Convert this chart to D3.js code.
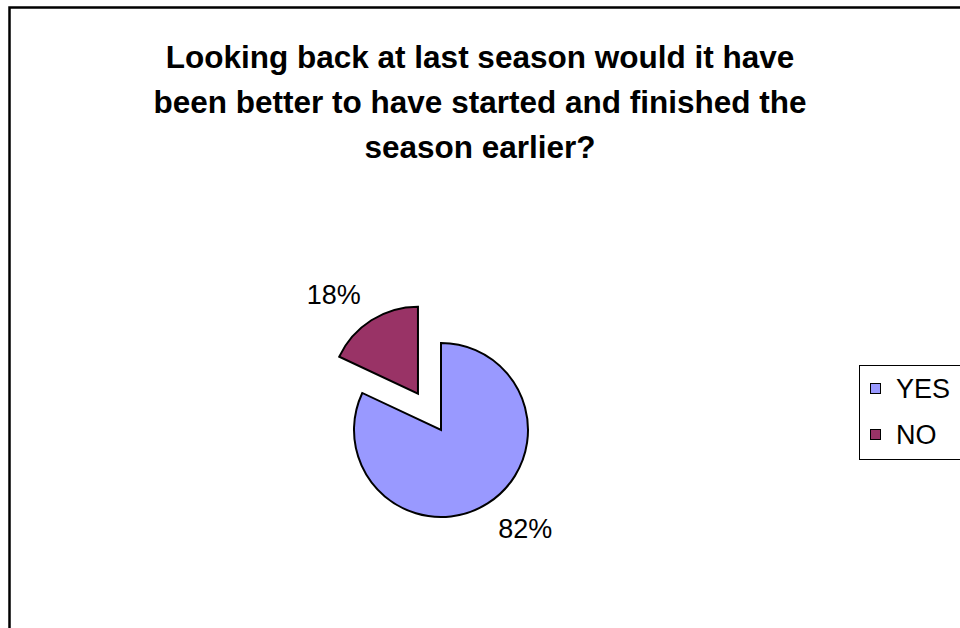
<!DOCTYPE html>
<html>
<head>
<meta charset="utf-8">
<script src="https://cdn.jsdelivr.net/npm/d3@7"></script>
<style>
  html, body { margin: 0; padding: 0; background: #fff; }
  svg { display: block; font-family: "Liberation Sans", Arial, sans-serif; }
</style>
</head>
<body>
<svg id="chart" width="960" height="628"></svg>
<script>
// Survey answers
const categories = ["YES", "NO"];
const shares = [82, 18];
const labels = ["82%", "18%"];
const titleLines = [
  "Looking back at last season would it have",
  "been better to have started and finished the",
  "season earlier?"
];
const colors = ["#9999FF", "#993366"];

const svg = d3.select("#chart");

// Outer chart frame
svg.append("rect")
  .attr("x", 9.5).attr("y", 7.5)
  .attr("width", 1000).attr("height", 700)
  .attr("fill", "#fff")
  .attr("stroke", "#000")
  .attr("stroke-width", 2.5);

// Title
svg.append("g")
  .selectAll("text")
  .data(titleLines)
  .join("text")
  .attr("x", 480)
  .attr("y", (d, i) => 68 + i * 45)
  .attr("text-anchor", "middle")
  .attr("font-weight", "bold")
  .attr("font-size", 31.5)
  .text(d => d);

// Pie
const cx = 441, cy = 430, r = 87, explode = 43;
const labelRadius = 130, labelTurn = -0.14;
const data = categories.map((c, i) => ({ cat: c, value: shares[i], label: labels[i], color: colors[i], exploded: c === "NO" }));
const pie = d3.pie().value(d => d.value).sort(null);
const arc = d3.arc().innerRadius(0).outerRadius(r);
const arcs = pie(data);

const g = svg.append("g").attr("transform", `translate(${cx},${cy})`);

const slice = g.selectAll("g.slice")
  .data(arcs)
  .join("g")
  .attr("class", "slice")
  .attr("transform", d => {
    if (!d.data.exploded) return null;
    const a = (d.startAngle + d.endAngle) / 2;
    return `translate(${Math.sin(a) * explode},${-Math.cos(a) * explode})`;
  });

slice.append("path")
  .attr("d", arc)
  .attr("fill", d => d.data.color)
  .attr("stroke", "#000")
  .attr("stroke-width", 2)
  .attr("stroke-linejoin", "miter");

// Percentage labels sit a little counter-clockwise of each slice's middle
slice.append("text")
  .attr("x", d => Math.sin((d.startAngle + d.endAngle) / 2 + labelTurn) * labelRadius)
  .attr("y", d => -Math.cos((d.startAngle + d.endAngle) / 2 + labelTurn) * labelRadius)
  .attr("text-anchor", "middle")
  .attr("dominant-baseline", "central")
  .attr("font-size", 27)
  .text(d => d.data.label);

// Legend
const legend = svg.append("g");
legend.append("rect")
  .attr("x", 859.5).attr("y", 365.5)
  .attr("width", 200).attr("height", 94)
  .attr("fill", "#fff")
  .attr("stroke", "#000")
  .attr("stroke-width", 1);

const item = legend.selectAll("g.item")
  .data(data)
  .join("g")
  .attr("class", "item")
  .attr("transform", (d, i) => `translate(870,${383 + i * 46})`);

item.append("rect")
  .attr("x", 0.5).attr("y", 0.5)
  .attr("width", 10).attr("height", 10)
  .attr("fill", d => d.color)
  .attr("stroke", "#000")
  .attr("stroke-width", 1);

item.append("text")
  .attr("x", 26)
  .attr("y", 15)
  .attr("font-size", 27)
  .text(d => d.cat);
</script>
</body>
</html>
